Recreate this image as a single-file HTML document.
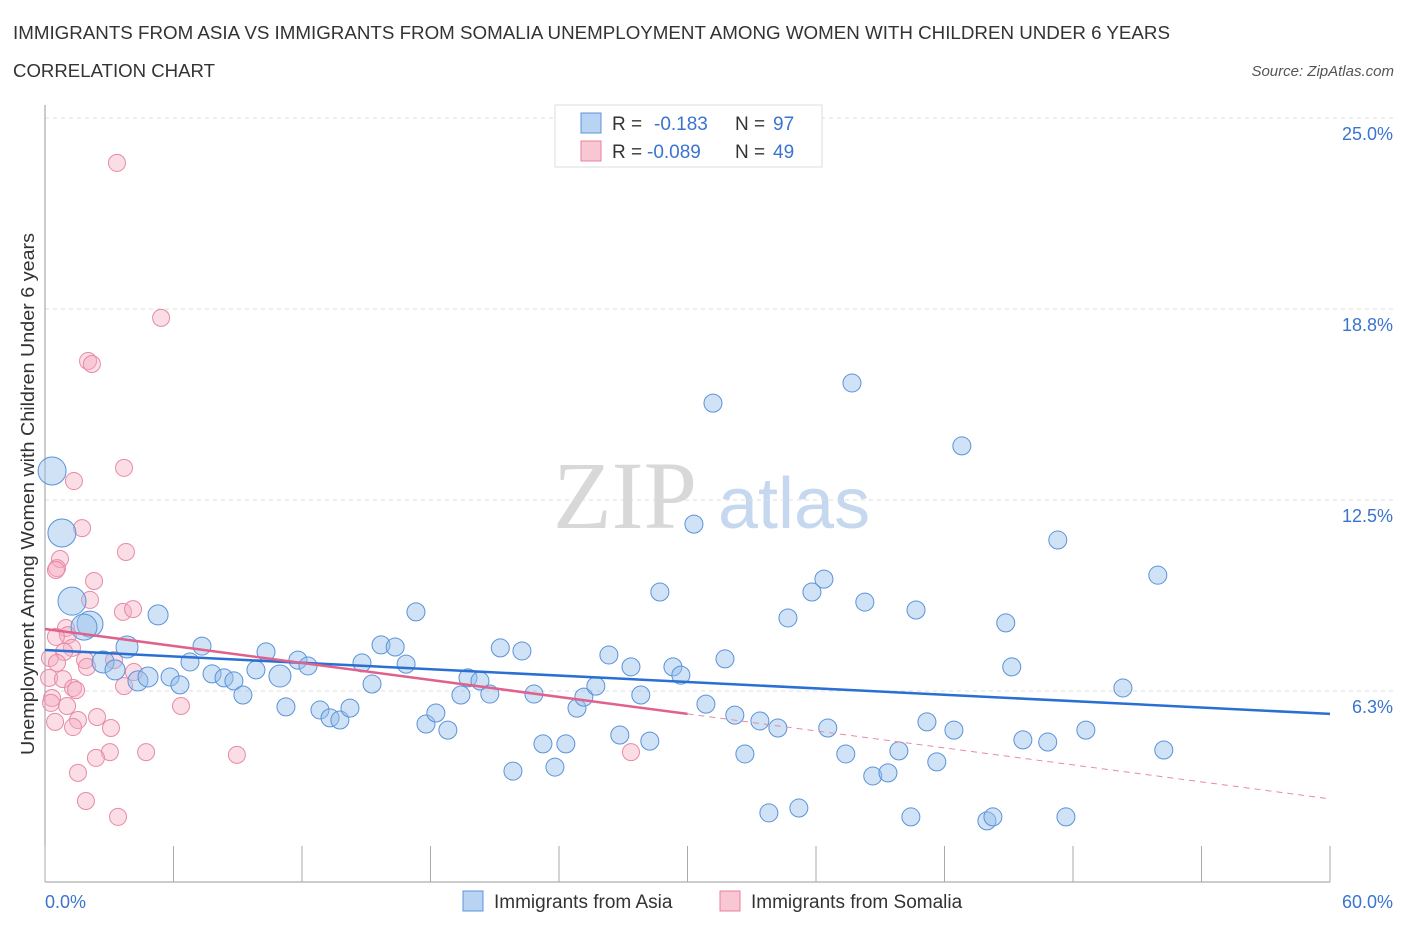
<!DOCTYPE html>
<html><head><meta charset="utf-8"><style>
body{margin:0;background:#fff;font-family:"Liberation Sans",sans-serif;}
svg text{font-family:"Liberation Sans",sans-serif;}
</style></head><body>
<svg id="chart" width="1406" height="930" xmlns="http://www.w3.org/2000/svg">
<text x="13" y="39" font-size="18" fill="#333" textLength="1157" lengthAdjust="spacingAndGlyphs">IMMIGRANTS FROM ASIA VS IMMIGRANTS FROM SOMALIA UNEMPLOYMENT AMONG WOMEN WITH CHILDREN UNDER 6 YEARS</text>
<text x="13" y="77" font-size="18" fill="#333" textLength="202" lengthAdjust="spacingAndGlyphs">CORRELATION CHART</text>
<text x="1394" y="76" font-size="15" fill="#555" font-style="italic" text-anchor="end">Source: ZipAtlas.com</text>
<g>
<text x="553" y="528" font-size="96" fill="#d8d8d8" font-family="Liberation Serif" style="font-family:'Liberation Serif',serif">ZIP</text>
<text x="718" y="528" font-size="72" fill="#c5d8ef">atlas</text>
</g>
<g id="grid"></g>
<g id="axes"></g>
<g id="marks"></g>
<text transform="translate(34,494) rotate(-90)" font-size="18" fill="#333" text-anchor="middle" textLength="522" lengthAdjust="spacingAndGlyphs">Unemployment Among Women with Children Under 6 years</text>
<g>
<rect x="555" y="105" width="267" height="62" fill="#fff" stroke="#ddd"/>
<rect x="581" y="113" width="20" height="20" fill="#b9d4f3" stroke="#5b93d9"/>
<text x="612" y="130" font-size="19" fill="#333">R = </text><text x="654" y="130" font-size="19" fill="#3a74d0">-0.183</text>
<text x="735" y="130" font-size="19" fill="#333">N = </text><text x="773" y="130" font-size="19" fill="#3a74d0">97</text>
<rect x="581" y="141" width="20" height="20" fill="#f9c6d3" stroke="#e6819e"/>
<text x="612" y="158" font-size="19" fill="#333">R = </text><text x="647" y="158" font-size="19" fill="#3a74d0">-0.089</text>
<text x="735" y="158" font-size="19" fill="#333">N = </text><text x="773" y="158" font-size="19" fill="#3a74d0">49</text>
</g>
<g>
<rect x="463" y="891" width="20" height="20" fill="#b9d4f3" stroke="#5b93d9"/>
<text x="494" y="908" font-size="19" fill="#333">Immigrants from Asia</text>
<rect x="720" y="891" width="20" height="20" fill="#f9c6d3" stroke="#e6819e"/>
<text x="751" y="908" font-size="19" fill="#333">Immigrants from Somalia</text>
</g>
</svg>
<script>
const xTicks=[0,6,12,18,24,30,36,42,48,54,60];
const yTicks=[6.25,12.5,18.75,25];
const yTickLabels=["6.3%","12.5%","18.8%","25.0%"];
const xEndLabels=["0.0%","60.0%"];
const asiaX=[0.33,0.79,1.26,2.10,1.82,3.83,2.71,3.27,4.34,4.81,5.28,5.84,6.30,6.77,7.33,7.80,8.36,8.82,9.24,9.85,10.32,10.97,11.25,11.81,12.28,12.84,13.31,13.77,14.24,14.80,15.27,15.69,16.35,16.86,17.32,17.79,18.25,18.81,19.42,19.75,20.31,20.77,21.26,21.85,22.27,22.83,23.25,23.81,24.32,24.84,25.16,25.72,26.33,26.84,27.36,27.82,28.24,28.71,29.32,29.69,30.30,30.86,31.19,31.75,32.21,32.68,33.38,33.80,34.22,34.69,35.20,35.81,36.37,36.55,37.39,37.68,38.28,38.65,39.36,39.87,40.43,40.67,41.18,41.64,42.44,42.81,43.98,44.26,44.86,45.14,45.66,46.82,47.29,47.67,48.60,50.33,51.96,52.24];
const asiaY=[13.45,11.42,9.19,8.44,8.34,7.69,7.2,6.94,6.58,6.71,8.74,6.71,6.45,7.2,7.72,6.81,6.68,6.58,6.12,6.94,7.53,6.74,5.73,7.26,7.07,5.63,5.37,5.3,5.69,7.17,6.48,7.76,7.69,7.13,8.84,5.17,5.53,4.97,6.12,6.68,6.58,6.15,7.66,3.63,7.56,6.15,4.52,3.76,4.52,5.69,6.05,6.41,7.43,4.81,7.04,6.12,4.61,9.49,7.04,6.77,11.71,5.82,15.67,7.3,5.46,4.19,5.27,2.26,5.04,8.64,2.42,9.49,9.91,5.04,4.19,16.33,9.16,3.47,3.57,4.29,2.13,8.9,5.24,3.93,4.97,14.27,2.0,2.13,8.48,7.04,4.65,4.58,11.19,2.13,4.97,6.35,10.04,4.32];
const asiaSize=[14,14,14,13,13,11,11,10,10,10,10,9,9,9,9,9,9,9,9,9,9,11];
const somX=[3.36,5.42,2.01,2.19,3.69,1.35,1.73,3.78,0.70,0.56,0.51,2.29,2.10,3.64,4.11,0.98,1.07,0.51,1.26,0.89,0.23,0.56,1.87,1.96,3.22,4.15,3.69,0.19,0.84,1.31,1.45,0.33,0.28,1.03,1.54,2.43,0.47,1.31,6.35,3.08,3.03,4.72,2.38,8.96,27.36,1.54,1.91,3.41];
const somY=[23.53,18.46,17.05,16.95,13.55,13.12,11.58,10.8,10.57,10.27,10.21,9.85,9.23,8.84,8.93,8.31,8.08,8.02,7.66,7.53,7.33,7.17,7.26,7.04,7.26,6.87,6.41,6.68,6.64,6.35,6.28,6.02,5.86,5.76,5.3,5.4,5.24,5.07,5.76,5.04,4.25,4.25,4.06,4.16,4.25,3.57,2.65,2.13];
const asiaTrend=[7.59,5.50];
const somTrend=[8.28,5.50,2.72];
const somTrendX=[0,30,60];
const X0=45,X1=1330,Y0=882,Ytop=118;
const sx=v=>X0+(v/60)*(X1-X0);
const sy=v=>Y0-(v/25)*(Y0-Ytop);
const NS="http://www.w3.org/2000/svg";
function mk(t,a,p){const e=document.createElementNS(NS,t);for(const k in a)e.setAttribute(k,a[k]);p.appendChild(e);return e;}
const grid=document.getElementById('grid'),axes=document.getElementById('axes'),marks=document.getElementById('marks');
yTicks.forEach((v,i)=>{
 const l=mk('line',{x1:X0,x2:1394,y1:sy(v),y2:sy(v),stroke:'#ddd','stroke-dasharray':'4,4'},grid);
 
 
 const t=mk('text',{x:1393,y:sy(v)+22,'font-size':18,fill:'#3a74d0','text-anchor':'end'},axes);
 t.textContent=yTickLabels[i];
 
 
});
const ax=mk('line',{x1:X0,x2:X0,y1:105,y2:Y0,stroke:'#999'},axes);


const bx=mk('line',{x1:X0,x2:X1,y1:Y0,y2:Y0,stroke:'#999'},axes);


xTicks.forEach(v=>{
 const t=mk('line',{x1:sx(v),x2:sx(v),y1:Y0,y2:Y0-36,stroke:'#aaa'},axes);
 
 
});
const xl0=mk('text',{x:45,y:908,'font-size':18,fill:'#3a74d0'},axes);xl0.textContent=xEndLabels[0];


const xl1=mk('text',{x:1393,y:908,'font-size':18,fill:'#3a74d0','text-anchor':'end'},axes);xl1.textContent=xEndLabels[1];


somX.forEach((v,i)=>{
 const c=mk('circle',{cx:sx(v),cy:sy(somY[i]),r:8.5,fill:'rgba(246,170,192,0.4)',stroke:'#e88aa6','stroke-width':1},marks);
 
 
});
asiaX.forEach((v,i)=>{
 const c=mk('circle',{cx:sx(v),cy:sy(asiaY[i]),r:asiaSize[i]||9,fill:'rgba(150,190,236,0.45)',stroke:'#5b93d9','stroke-width':1},marks);
 
 
});
const tl=mk('line',{x1:sx(0),y1:sy(asiaTrend[0]),x2:sx(60),y2:sy(asiaTrend[1]),stroke:'#2a6fd3','stroke-width':2.5},marks);


const ps=mk('line',{x1:sx(somTrendX[0]),y1:sy(somTrend[0]),x2:sx(somTrendX[1]),y2:sy(somTrend[1]),stroke:'#e0628c','stroke-width':2.5},marks);


const pd=mk('line',{x1:sx(somTrendX[1]),y1:sy(somTrend[1]),x2:sx(somTrendX[2]),y2:sy(somTrend[2]),stroke:'#e88aa6','stroke-width':1,'stroke-dasharray':'6,5'},marks);


</script>
</body></html>
